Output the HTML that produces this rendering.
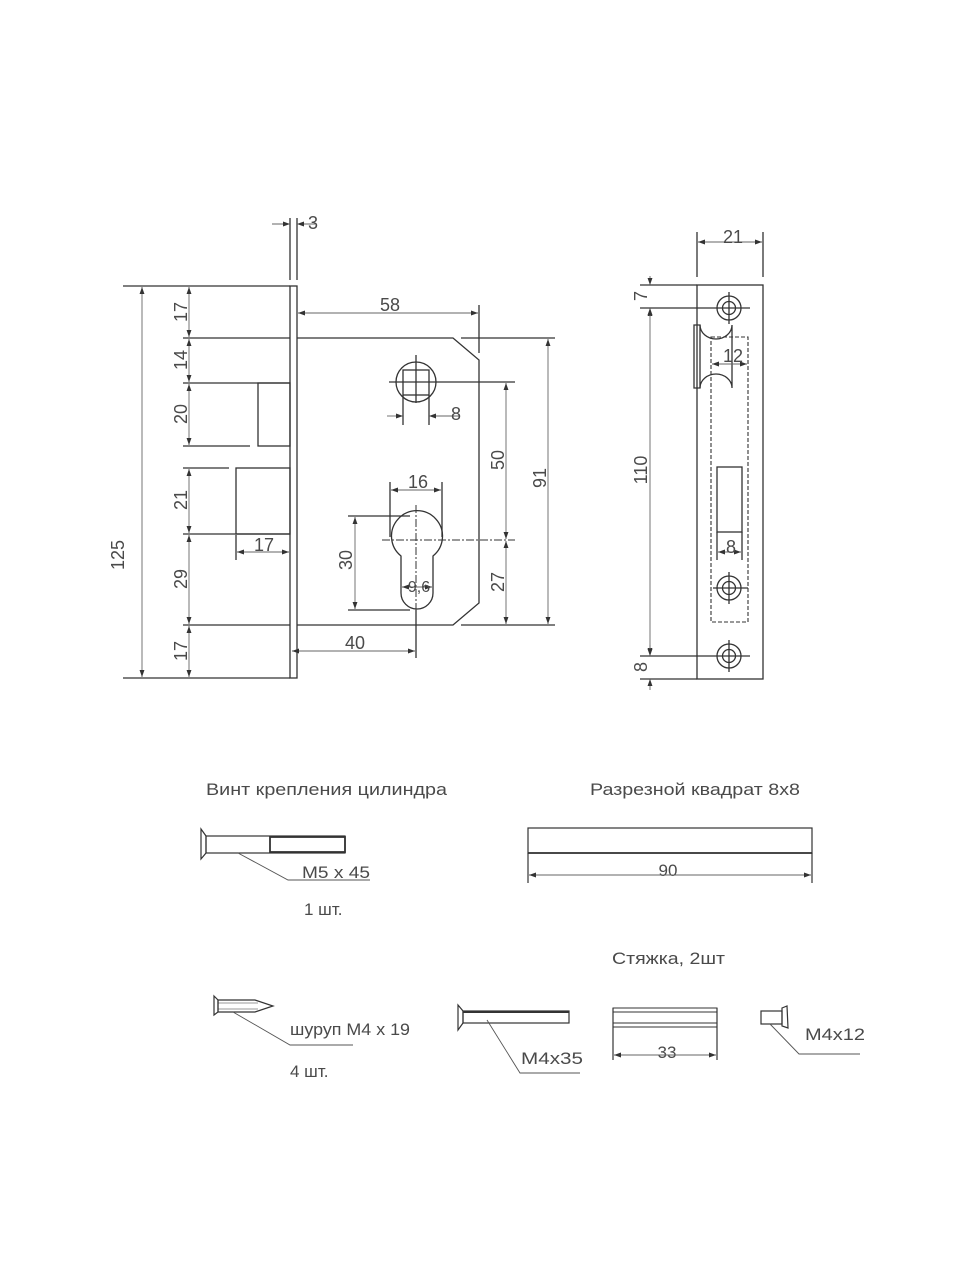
<!DOCTYPE html>
<html><head><meta charset="utf-8"><style>
html,body{margin:0;padding:0;background:#fff;}
svg{display:block;}
text{font-family:"Liberation Sans","DejaVu Sans",sans-serif;fill:#4a4a4a;}
</style></head><body>
<svg width="960" height="1280" viewBox="0 0 960 1280" xmlns="http://www.w3.org/2000/svg">
<defs>
<marker id="a" viewBox="0 0 10 10" refX="10" refY="5" markerWidth="7" markerHeight="7" orient="auto-start-reverse" markerUnits="userSpaceOnUse"><path d="M0,1.5 L10,5 L0,8.5 z" fill="#333"/></marker>
</defs>
<g fill="none" stroke="#333" stroke-width="1.3">
<rect x="290" y="286" width="7" height="392"/>
<line x1="290" y1="218" x2="290" y2="280"/><line x1="297" y1="218" x2="297" y2="280"/>
<line x1="123" y1="286" x2="290" y2="286"/><line x1="123" y1="678" x2="290" y2="678"/>
<path d="M297,338 L453,338 L479,360 L479,603 L453,625 L297,625"/>
<line x1="183" y1="338" x2="290" y2="338"/>
<line x1="183" y1="383" x2="290" y2="383"/>
<rect x="258" y="383" width="32" height="63"/>
<line x1="183" y1="446" x2="250" y2="446"/>
<line x1="183" y1="468" x2="229" y2="468"/>
<rect x="236" y="468" width="54" height="66"/>
<line x1="183" y1="534" x2="290" y2="534"/>
<line x1="183" y1="625" x2="290" y2="625"/>
<circle cx="416" cy="382" r="20"/>
<rect x="403" y="370" width="26" height="25"/>
<line x1="389" y1="382" x2="515" y2="382"/>
<line x1="416" y1="355" x2="416" y2="403"/>
<line x1="403" y1="395" x2="403" y2="425"/><line x1="429" y1="395" x2="429" y2="425"/>
<path d="M401,556 A25.5,25.5 0 1 1 433,556 L433,593 A16,16 0 0 1 401,593 Z"/>
<line x1="461" y1="338" x2="555" y2="338"/><line x1="461" y1="625" x2="555" y2="625"/>
<line x1="479" y1="305" x2="479" y2="353"/>
<line x1="390" y1="482" x2="390" y2="537"/><line x1="442" y1="482" x2="442" y2="537"/>
<line x1="348" y1="516" x2="410" y2="516"/><line x1="348" y1="610" x2="410" y2="610"/>
<line x1="236" y1="535" x2="236" y2="560"/>
<line x1="416" y1="610" x2="416" y2="658"/>
</g>
<g stroke="#333" stroke-width="1" stroke-dasharray="8,2,2,2" fill="none">
<line x1="382" y1="540" x2="515" y2="540"/>
<line x1="416" y1="505" x2="416" y2="610"/>
</g>
<g stroke="#666" stroke-width="0.9" fill="none" marker-start="url(#a)" marker-end="url(#a)">
<line x1="142" y1="287" x2="142" y2="677"/>
<line x1="189" y1="287" x2="189" y2="337"/>
<line x1="189" y1="339" x2="189" y2="382"/>
<line x1="189" y1="384" x2="189" y2="445"/>
<line x1="189" y1="469" x2="189" y2="533"/>
<line x1="189" y1="535" x2="189" y2="624"/>
<line x1="189" y1="626" x2="189" y2="677"/>
<line x1="298" y1="313" x2="478" y2="313"/>
<line x1="548" y1="339" x2="548" y2="624"/>
<line x1="506" y1="383" x2="506" y2="539"/>
<line x1="506" y1="541" x2="506" y2="624"/>
<line x1="391" y1="490" x2="441" y2="490"/>
<line x1="355" y1="517" x2="355" y2="609"/>
<line x1="237" y1="552" x2="289" y2="552"/>
<line x1="292" y1="651" x2="415" y2="651"/>
<line x1="402" y1="587" x2="432" y2="587"/>
</g>
<g stroke="#666" stroke-width="0.9" fill="none">
<line x1="272" y1="224" x2="290" y2="224" marker-end="url(#a)"/>
<line x1="315" y1="224" x2="297" y2="224" marker-end="url(#a)"/>
<line x1="387" y1="416" x2="403" y2="416" marker-end="url(#a)"/>
<line x1="460" y1="416" x2="429" y2="416" marker-end="url(#a)"/>
</g>
<g font-size="18">
<text x="308" y="229">3</text>
<text x="390" y="311" text-anchor="middle">58</text>
<text x="456" y="420" text-anchor="middle">8</text>
<text x="418" y="488" text-anchor="middle">16</text>
<text x="419" y="592" text-anchor="middle" font-size="16">9,6</text>
<text x="355" y="649" text-anchor="middle">40</text>
<text x="264" y="551" text-anchor="middle">17</text>
<g text-anchor="middle">
<text transform="translate(124,555) rotate(-90)">125</text>
<text transform="translate(187,312) rotate(-90)">17</text>
<text transform="translate(187,360) rotate(-90)">14</text>
<text transform="translate(187,414) rotate(-90)">20</text>
<text transform="translate(187,500) rotate(-90)">21</text>
<text transform="translate(187,579) rotate(-90)">29</text>
<text transform="translate(187,651) rotate(-90)">17</text>
<text transform="translate(352,560) rotate(-90)">30</text>
<text transform="translate(504,460) rotate(-90)">50</text>
<text transform="translate(504,582) rotate(-90)">27</text>
<text transform="translate(546,478) rotate(-90)">91</text>
</g>
</g>

<g fill="none" stroke="#333" stroke-width="1.3">
<rect x="697" y="285" width="66" height="394"/>
<line x1="697" y1="232" x2="697" y2="277"/><line x1="763" y1="232" x2="763" y2="277"/>
<line x1="640" y1="285" x2="697" y2="285"/>
<line x1="640" y1="308" x2="750" y2="308"/>
<line x1="640" y1="656" x2="750" y2="656"/>
<line x1="640" y1="679" x2="697" y2="679"/>
<circle cx="729" cy="308" r="12"/><circle cx="729" cy="308" r="6.5"/>
<circle cx="729" cy="588" r="12"/><circle cx="729" cy="588" r="6.5"/>
<circle cx="729" cy="656" r="12"/><circle cx="729" cy="656" r="6.5"/>
<line x1="729" y1="292" x2="729" y2="324"/><line x1="729" y1="572" x2="729" y2="604"/><line x1="729" y1="640" x2="729" y2="672"/>
<line x1="713" y1="588" x2="748" y2="588"/>
<path d="M694,325 L700,325 A16,14 0 0 0 732,325 L732,388 A16,14 0 0 0 700,388 L694,388 Z"/>
<line x1="700" y1="325" x2="700" y2="388"/>
<rect x="717" y="467" width="25" height="65"/>
<line x1="717" y1="532" x2="717" y2="560"/><line x1="742" y1="532" x2="742" y2="560"/>
</g>
<rect x="711" y="337" width="37" height="285" fill="none" stroke="#333" stroke-width="1.1" stroke-dasharray="4,2"/>
<g stroke="#666" stroke-width="0.9" fill="none" marker-start="url(#a)" marker-end="url(#a)">
<line x1="698" y1="242" x2="762" y2="242"/>
<line x1="650" y1="309" x2="650" y2="655"/>
<line x1="712" y1="364" x2="747" y2="364"/>
<line x1="718" y1="552" x2="741" y2="552"/>
</g>
<g stroke="#666" stroke-width="0.9" fill="none">
<line x1="650" y1="276" x2="650" y2="285" marker-end="url(#a)"/>
<line x1="650" y1="317" x2="650" y2="308" marker-end="url(#a)"/>
<line x1="650" y1="645" x2="650" y2="656" marker-end="url(#a)"/>
<line x1="650" y1="690" x2="650" y2="679" marker-end="url(#a)"/>
</g>
<g font-size="18" text-anchor="middle">
<text x="733" y="243">21</text>
<text x="733" y="362">12</text>
<text x="731" y="553">8</text>
<text transform="translate(647,296) rotate(-90)">7</text>
<text transform="translate(647,470) rotate(-90)">110</text>
<text transform="translate(647,667) rotate(-90)">8</text>
</g>

<g font-size="17">
<text x="206" y="795" textLength="241" lengthAdjust="spacingAndGlyphs">Винт крепления цилиндра</text>
<text x="590" y="795" textLength="210" lengthAdjust="spacingAndGlyphs">Разрезной квадрат 8x8</text>
<text x="302" y="878" textLength="68" lengthAdjust="spacingAndGlyphs">M5 x 45</text>
<text x="304" y="915">1 шт.</text>
<text x="668" y="876" text-anchor="middle">90</text>
<text x="612" y="964" textLength="113" lengthAdjust="spacingAndGlyphs">Стяжка, 2шт</text>
<text x="290" y="1035" textLength="120" lengthAdjust="spacingAndGlyphs">шуруп M4 x 19</text>
<text x="290" y="1077">4 шт.</text>
<text x="521" y="1064" textLength="62" lengthAdjust="spacingAndGlyphs">M4x35</text>
<text x="667" y="1058" text-anchor="middle">33</text>
<text x="805" y="1040" textLength="60" lengthAdjust="spacingAndGlyphs">M4x12</text>
</g>
<g fill="none" stroke="#333" stroke-width="1.2">
<path d="M201,829 L206,836 L206,853 L201,859 Z"/>
<rect x="206" y="836" width="139" height="17"/>
<rect x="270" y="837" width="75" height="15" stroke-width="1.8"/>
<polyline points="238,853 288,880 370,880" stroke-width="0.9" stroke="#555"/>
<rect x="528" y="828" width="284" height="25"/>
<line x1="528" y1="853" x2="812" y2="853" stroke-width="1.8"/>
<line x1="528" y1="853" x2="528" y2="883"/><line x1="812" y1="853" x2="812" y2="883"/>
<path d="M214,996 L218,1000 L218,1012 L214,1015 Z"/>
<path d="M218,1000 L255,1000 L273,1006 L255,1012 L218,1012 Z"/>
<line x1="218" y1="1003" x2="258" y2="1003" stroke-width="0.6"/><line x1="218" y1="1009" x2="258" y2="1009" stroke-width="0.6"/>
<polyline points="233,1012 290,1045 353,1045" stroke-width="0.9" stroke="#555"/>
<path d="M458,1005 L463,1011 L463,1023 L458,1030 Z"/>
<rect x="463" y="1011" width="106" height="12"/>
<line x1="463" y1="1012" x2="569" y2="1012" stroke-width="2"/>
<polyline points="487,1020 520,1073 580,1073" stroke-width="0.9" stroke="#555"/>
<rect x="613" y="1008" width="104" height="4" stroke-width="1"/>
<rect x="613" y="1023" width="104" height="4" stroke-width="1"/>
<line x1="613" y1="1008" x2="613" y2="1060"/><line x1="717" y1="1008" x2="717" y2="1060"/>
<rect x="761" y="1011" width="21" height="13"/>
<path d="M782,1008 L787,1006 L788,1028 L782,1026 Z"/>
<polyline points="770,1024 799,1054 860,1054" stroke-width="0.9" stroke="#555"/>
</g>
<g stroke="#666" stroke-width="0.9" fill="none" marker-start="url(#a)" marker-end="url(#a)">
<line x1="529" y1="875" x2="811" y2="875"/>
<line x1="614" y1="1055" x2="716" y2="1055"/>
</g>
</svg>
</body></html>
